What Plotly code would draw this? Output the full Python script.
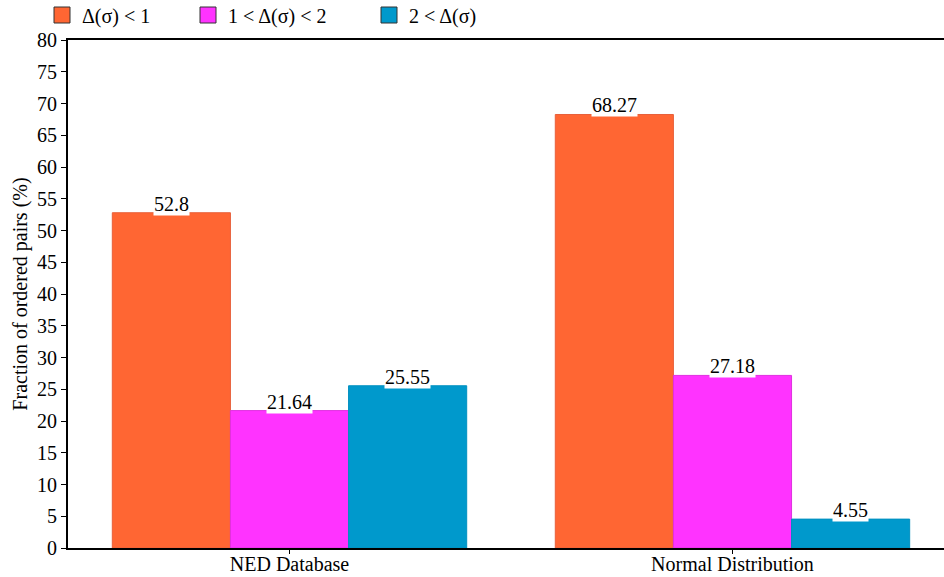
import plotly.graph_objects as go

categories = ["NED Database", "Normal Distribution"]
series_names = ["Δ(σ) < 1", "1 < Δ(σ) < 2", "2 < Δ(σ)"]
values_lt1 = [52.8, 68.27]
values_1to2 = [21.64, 27.18]
values_gt2 = [25.55, 4.55]
colors = ["#FF6633", "#FF33FF", "#0099CC"]
edge_colors = ["#E8603A", "#E030E0", "#0090C0"]
y_ticks = list(range(0, 85, 5))

all_values = [values_lt1, values_1to2, values_gt2]
font_family = "Liberation Serif"
FS = 20

W, H = 944, 577

fig = go.Figure()
for name, vals, col, ecol in zip(series_names, all_values, colors, edge_colors):
    fig.add_trace(go.Bar(
        x=[0, 1], y=vals, name=name, showlegend=False,
        marker=dict(color=col, line=dict(color=ecol, width=1)),
    ))

legend_ids = ["legend", "legend2", "legend3"]
legend_x = [42, 188, 369]
for name, col, lid in zip(series_names, colors, legend_ids):
    fig.add_trace(go.Scatter(
        x=[None], y=[None], mode="markers", name=name, legend=lid,
        marker=dict(symbol="square", size=16, color=col,
                    line=dict(color="#333333", width=1)),
    ))

bar_w = 0.8 / 3
for i, vals in enumerate(all_values):
    off = (i - 1) * bar_w
    for j, v in enumerate(vals):
        fig.add_annotation(
            x=j + off, y=v, text=str(v), showarrow=False,
            yanchor="bottom", xanchor="center", yshift=-3,
            bgcolor="white", borderpad=0,
            font=dict(family=font_family, size=FS, color="black"),
        )

legend_common = dict(orientation="h", xref="container", yref="container",
                     y=1 - 15 / H, xanchor="left", yanchor="middle",
                     font=dict(family=font_family, size=FS, color="black"),
                     bgcolor="rgba(0,0,0,0)")
layout_legends = {}
for lid, lx in zip(legend_ids, legend_x):
    layout_legends[lid] = dict(legend_common, x=lx / W)

fig.update_layout(
    width=W, height=H,
    margin=dict(l=68, r=0, t=40, b=29, autoexpand=False),
    paper_bgcolor="white", plot_bgcolor="white",
    barmode="group", bargap=0.2, bargroupgap=0,
    font=dict(family=font_family, size=FS, color="black"),
    showlegend=True,
    xaxis=dict(
        tickvals=[0, 1], ticktext=categories, range=[-0.5, 1.5 - 10 / 444],
        showline=True, linecolor="black", linewidth=2, mirror=True,
        ticks="outside", tickson="boundaries", ticklen=4, tickcolor="black",
        ticklabelstandoff=-7,
        showgrid=False, zeroline=False,
        tickfont=dict(family=font_family, size=FS),
    ),
    yaxis=dict(
        range=[0, 80], tickvals=y_ticks,
        showline=True, linecolor="black", linewidth=2,
        ticks="outside", ticklen=5, tickcolor="black",
        showgrid=False, zeroline=False,
        tickfont=dict(family=font_family, size=FS),
        title=dict(text="Fraction of ordered pairs (%)", standoff=4,
                   font=dict(family=font_family, size=FS)),
    ),
    **layout_legends,
)

fig.write_html("out.html", config={"displayModeBar": False},
               post_script="document.body.style.margin='0';document.body.style.overflow='hidden';")
